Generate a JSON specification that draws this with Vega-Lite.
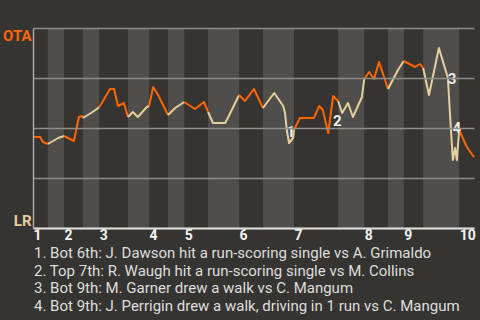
{
  "$schema": "https://vega.github.io/schema/vega-lite/v6.json",
  "autosize": {"type": "none"},
  "padding": {"left": 33, "top": 28, "right": 6, "bottom": 92},
  "width": 441,
  "height": 200,
  "background": "#363430",
  "config": {"view": {"stroke": null}, "font": "Roboto"},
  "title": {
    "text": [
      "1. Bot 6th: J. Dawson hit a run-scoring single vs A. Grimaldo",
      "2. Top 7th: R. Waugh hit a run-scoring single vs M. Collins",
      "3. Bot 9th: M. Garner drew a walk vs C. Mangum",
      "4. Bot 9th: J. Perrigin drew a walk, driving in 1 run vs C. Mangum"
    ],
    "orient": "bottom",
    "anchor": "start",
    "frame": "group",
    "align": "left",
    "dx": 1,
    "offset": 4,
    "font": "Roboto",
    "fontSize": 15,
    "fontWeight": "normal",
    "color": "#dedede",
    "lineHeight": 17.6
  },
  "datasets": {
    "bands": [
      {"s": 3.3, "e": 6.9}, {"s": 11.1, "e": 14.7}, {"s": 21.1, "e": 25.8},
      {"s": 30.0, "e": 33.6}, {"s": 38.9, "e": 45.8}, {"s": 51.1, "e": 58.0},
      {"s": 67.8, "e": 73.6}, {"s": 78.9, "e": 82.4}, {"s": 86.7, "e": 94.7}
    ],
    "wp": [
      {"x": 0, "y": 0.455, "h": "T1", "team": "OTA"},
      {"x": 1.6, "y": 0.455, "h": "T1", "team": "OTA"},
      {"x": 2.2, "y": 0.43, "h": "T1", "team": "OTA"},
      {"x": 3.3, "y": 0.42, "h": "T1", "team": "OTA"},
      {"x": 3.3, "y": 0.42, "h": "B1", "team": "LR"},
      {"x": 5.6, "y": 0.45, "h": "B1", "team": "LR"},
      {"x": 6.9, "y": 0.46, "h": "B1", "team": "LR"},
      {"x": 6.9, "y": 0.46, "h": "T2", "team": "OTA"},
      {"x": 9.1, "y": 0.435, "h": "T2", "team": "OTA"},
      {"x": 10.2, "y": 0.555, "h": "T2", "team": "OTA"},
      {"x": 10.9, "y": 0.56, "h": "T2", "team": "OTA"},
      {"x": 11.1, "y": 0.55, "h": "T2", "team": "OTA"},
      {"x": 11.1, "y": 0.55, "h": "B2", "team": "LR"},
      {"x": 12.9, "y": 0.575, "h": "B2", "team": "LR"},
      {"x": 14.2, "y": 0.595, "h": "B2", "team": "LR"},
      {"x": 14.7, "y": 0.605, "h": "B2", "team": "LR"},
      {"x": 14.7, "y": 0.605, "h": "T3", "team": "OTA"},
      {"x": 15.3, "y": 0.625, "h": "T3", "team": "OTA"},
      {"x": 17.1, "y": 0.695, "h": "T3", "team": "OTA"},
      {"x": 18.0, "y": 0.695, "h": "T3", "team": "OTA"},
      {"x": 18.9, "y": 0.61, "h": "T3", "team": "OTA"},
      {"x": 20.2, "y": 0.625, "h": "T3", "team": "OTA"},
      {"x": 21.1, "y": 0.555, "h": "T3", "team": "OTA"},
      {"x": 21.1, "y": 0.555, "h": "B3", "team": "LR"},
      {"x": 22.2, "y": 0.58, "h": "B3", "team": "LR"},
      {"x": 23.3, "y": 0.555, "h": "B3", "team": "LR"},
      {"x": 25.3, "y": 0.605, "h": "B3", "team": "LR"},
      {"x": 25.8, "y": 0.61, "h": "B3", "team": "LR"},
      {"x": 25.8, "y": 0.61, "h": "T4", "team": "OTA"},
      {"x": 26.7, "y": 0.705, "h": "T4", "team": "OTA"},
      {"x": 27.8, "y": 0.665, "h": "T4", "team": "OTA"},
      {"x": 30.0, "y": 0.565, "h": "T4", "team": "OTA"},
      {"x": 30.0, "y": 0.565, "h": "B4", "team": "LR"},
      {"x": 31.6, "y": 0.6, "h": "B4", "team": "LR"},
      {"x": 33.6, "y": 0.63, "h": "B4", "team": "LR"},
      {"x": 33.6, "y": 0.63, "h": "T5", "team": "OTA"},
      {"x": 36.0, "y": 0.595, "h": "T5", "team": "OTA"},
      {"x": 38.0, "y": 0.63, "h": "T5", "team": "OTA"},
      {"x": 38.9, "y": 0.58, "h": "T5", "team": "OTA"},
      {"x": 38.9, "y": 0.58, "h": "B5", "team": "LR"},
      {"x": 40.0, "y": 0.525, "h": "B5", "team": "LR"},
      {"x": 42.7, "y": 0.525, "h": "B5", "team": "LR"},
      {"x": 43.3, "y": 0.55, "h": "B5", "team": "LR"},
      {"x": 45.8, "y": 0.665, "h": "B5", "team": "LR"},
      {"x": 45.8, "y": 0.665, "h": "T6", "team": "OTA"},
      {"x": 47.1, "y": 0.635, "h": "T6", "team": "OTA"},
      {"x": 49.1, "y": 0.695, "h": "T6", "team": "OTA"},
      {"x": 51.1, "y": 0.6, "h": "T6", "team": "OTA"},
      {"x": 51.1, "y": 0.6, "h": "B6", "team": "LR"},
      {"x": 53.6, "y": 0.675, "h": "B6", "team": "LR"},
      {"x": 55.6, "y": 0.61, "h": "B6", "team": "LR"},
      {"x": 56.0, "y": 0.575, "h": "B6", "team": "LR"},
      {"x": 56.4, "y": 0.49, "h": "B6", "team": "LR"},
      {"x": 56.9, "y": 0.425, "h": "B6", "team": "LR"},
      {"x": 57.8, "y": 0.45, "h": "B6", "team": "LR"},
      {"x": 58.0, "y": 0.49, "h": "B6", "team": "LR"},
      {"x": 58.0, "y": 0.49, "h": "T7", "team": "OTA"},
      {"x": 59.3, "y": 0.55, "h": "T7", "team": "OTA"},
      {"x": 62.4, "y": 0.55, "h": "T7", "team": "OTA"},
      {"x": 63.6, "y": 0.61, "h": "T7", "team": "OTA"},
      {"x": 64.4, "y": 0.59, "h": "T7", "team": "OTA"},
      {"x": 65.6, "y": 0.475, "h": "T7", "team": "OTA"},
      {"x": 66.7, "y": 0.66, "h": "T7", "team": "OTA"},
      {"x": 67.8, "y": 0.635, "h": "T7", "team": "OTA"},
      {"x": 67.8, "y": 0.635, "h": "B7", "team": "LR"},
      {"x": 68.7, "y": 0.575, "h": "B7", "team": "LR"},
      {"x": 70.0, "y": 0.625, "h": "B7", "team": "LR"},
      {"x": 71.1, "y": 0.555, "h": "B7", "team": "LR"},
      {"x": 73.1, "y": 0.655, "h": "B7", "team": "LR"},
      {"x": 73.6, "y": 0.745, "h": "B7", "team": "LR"},
      {"x": 73.6, "y": 0.745, "h": "T8", "team": "OTA"},
      {"x": 74.7, "y": 0.78, "h": "T8", "team": "OTA"},
      {"x": 75.8, "y": 0.745, "h": "T8", "team": "OTA"},
      {"x": 76.9, "y": 0.83, "h": "T8", "team": "OTA"},
      {"x": 78.9, "y": 0.695, "h": "T8", "team": "OTA"},
      {"x": 78.9, "y": 0.695, "h": "B8", "team": "LR"},
      {"x": 81.1, "y": 0.79, "h": "B8", "team": "LR"},
      {"x": 82.4, "y": 0.835, "h": "B8", "team": "LR"},
      {"x": 82.4, "y": 0.835, "h": "T9", "team": "OTA"},
      {"x": 84.9, "y": 0.805, "h": "T9", "team": "OTA"},
      {"x": 86.0, "y": 0.82, "h": "T9", "team": "OTA"},
      {"x": 86.7, "y": 0.8, "h": "T9", "team": "OTA"},
      {"x": 86.7, "y": 0.8, "h": "B9", "team": "LR"},
      {"x": 88.0, "y": 0.665, "h": "B9", "team": "LR"},
      {"x": 90.2, "y": 0.9, "h": "B9", "team": "LR"},
      {"x": 92.2, "y": 0.75, "h": "B9", "team": "LR"},
      {"x": 92.7, "y": 0.555, "h": "B9", "team": "LR"},
      {"x": 93.3, "y": 0.34, "h": "B9", "team": "LR"},
      {"x": 93.8, "y": 0.4, "h": "B9", "team": "LR"},
      {"x": 94.2, "y": 0.34, "h": "B9", "team": "LR"},
      {"x": 94.7, "y": 0.49, "h": "B9", "team": "LR"},
      {"x": 94.7, "y": 0.49, "h": "T10", "team": "OTA"},
      {"x": 96.4, "y": 0.405, "h": "T10", "team": "OTA"},
      {"x": 98.0, "y": 0.355, "h": "T10", "team": "OTA"}
    ],
    "notes": [
      {"x": 57.3, "y": 0.48, "t": "1"},
      {"x": 67.6, "y": 0.535, "t": "2"},
      {"x": 93.1, "y": 0.745, "t": "3"},
      {"x": 94.2, "y": 0.5, "t": "4"}
    ]
  },
  "layer": [
    {
      "data": {"name": "bands"},
      "mark": {"type": "rect", "color": "#4f4e4b"},
      "encoding": {
        "x": {
          "field": "s", "type": "quantitative",
          "scale": {"domain": [0, 98], "nice": false, "zero": false},
          "axis": {
            "values": [0, 6.9, 14.7, 25.8, 33.6, 45.8, 58, 73.6, 82.4, 94.7],
            "labelExpr": "indexof([0, 6.9, 14.7, 25.8, 33.6, 45.8, 58, 73.6, 82.4, 94.7], datum.value) + 1",
            "title": null,
            "grid": false,
            "ticks": false,
            "domainColor": "#dddddd",
            "domainWidth": 2,
            "labelAlign": "left",
            "labelBaseline": "top",
            "labelFlush": false,
            "labelOverlap": false,
            "labelPadding": 0,
            "labelFont": "Roboto",
            "labelFontSize": 14,
            "labelFontWeight": "bold",
            "labelColor": "#f2f2f2",
            "zindex": 1
          }
        },
        "x2": {"field": "e"}
      }
    },
    {
      "data": {"name": "wp"},
      "mark": {"type": "line", "strokeWidth": 2, "strokeJoin": "round"},
      "encoding": {
        "x": {"field": "x", "type": "quantitative"},
        "y": {
          "field": "y", "type": "quantitative",
          "scale": {"domain": [0, 1], "nice": false},
          "axis": {
            "values": [0, 0.25, 0.5, 0.75, 1],
            "labelExpr": "datum.value == 1 ? 'OTA' : (datum.value == 0 ? 'LR' : '')",
            "title": null,
            "ticks": false,
            "grid": true,
            "gridColor": "#8e8d8a",
            "gridWidth": 1.5,
            "domainColor": "#a9a8a5",
            "domainWidth": 1.5,
            "labelPadding": 2,
            "labelFont": "Roboto",
            "labelFontSize": 15,
            "labelFontWeight": "bold",
            "labelBaseline": {"expr": "datum.value == 1 ? 'top' : 'bottom'"},
            "labelColor": {"expr": "datum.value == 1 ? '#ff6600' : '#e6cf9e'"},
            "zindex": 1
          }
        },
        "detail": {"field": "h"},
        "color": {
          "field": "team", "type": "nominal",
          "scale": {"domain": ["OTA", "LR"], "range": ["#ff6600", "#e6cf9e"]},
          "legend": null
        },
        "order": {"field": "x", "type": "quantitative"}
      }
    },
    {
      "data": {"name": "notes"},
      "mark": {"type": "text", "font": "Roboto", "fontSize": 15, "fontWeight": "bold", "color": "#f0f0f0", "align": "center", "baseline": "middle"},
      "encoding": {
        "x": {"field": "x", "type": "quantitative"},
        "y": {"field": "y", "type": "quantitative"},
        "text": {"field": "t"}
      }
    }
  ]
}
